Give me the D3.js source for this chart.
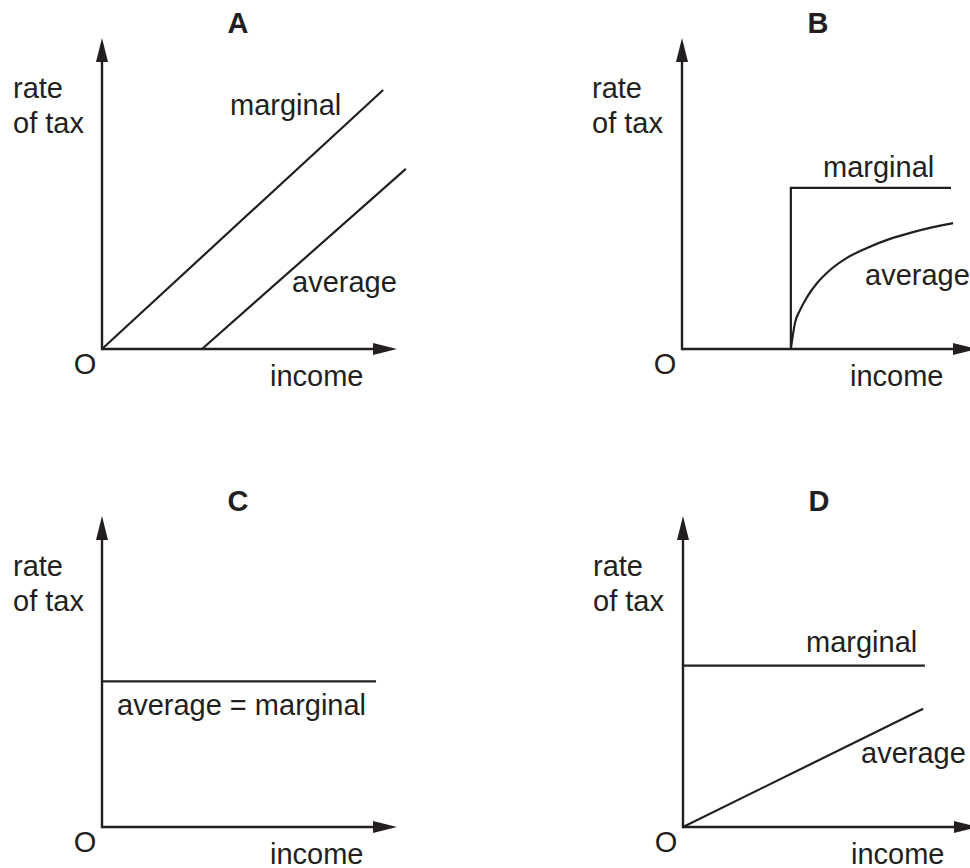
<!DOCTYPE html>
<html>
<head>
<meta charset="utf-8">
<script src="https://cdn.jsdelivr.net/npm/d3@7"></script>
<style>
  html, body { margin: 0; padding: 0; background: #fff; }
  svg { display: block; }
  text { font-family: "Liberation Sans", Arial, Helvetica, sans-serif; fill: #231f20; }
</style>
</head>
<body>
<svg id="chart" width="970" height="868"></svg>
<script>
// ---------- data (abstract units: income 0..10, rate of tax 0..10) ----------
const panelNames = ["A", "B", "C", "D"];
const axisMax = [10, 10];            // arrow tips of income / rate axes
const yLabel = ["rate", "of tax"];
const xLabel = "income";
const originLabel = "O";

// A: both rising, average starts later
const aMarginal = [[0, 0], [9.53, 8.33]];
const aAverage  = [[3.39, 0], [10.3, 5.79]];
// B: marginal jumps at threshold, average rises concavely
const bMarginal = [[3.69, 0], [3.69, 5.18], [9.12, 5.18]];
const bAverage  = [[3.69, 0], [3.83, 0.84], [4.0, 1.25], [4.24, 1.67], [4.58, 2.12], [5.02, 2.54],
                   [5.59, 2.93], [6.27, 3.25], [7.05, 3.54], [7.83, 3.76], [8.51, 3.92], [9.19, 4.05]];
// C: flat, average = marginal
const cBoth     = [[0, 4.68], [9.29, 4.68]];
// D: flat marginal, linear average from origin
const dMarginal = [[0, 5.19], [8.2, 5.19]];
const dAverage  = [[0, 0], [8.14, 3.8]];

const lineLabels = {
  A: [{text: "marginal", x: 128, y: -234}, {text: "average", x: 190, y: -57}],
  B: [{text: "marginal", x: 141, y: -172}, {text: "average", x: 183, y: -64}],
  C: [{text: "average = marginal", x: 15, y: -112}],
  D: [{text: "marginal", x: 123, y: -175}, {text: "average", x: 178, y: -64}]
};

const panelSeries = {
  A: [{pts: aMarginal, curve: d3.curveLinear}, {pts: aAverage, curve: d3.curveLinear}],
  B: [{pts: bMarginal, curve: d3.curveLinear}, {pts: bAverage, curve: d3.curveMonotoneX}],
  C: [{pts: cBoth, curve: d3.curveLinear}],
  D: [{pts: dMarginal, curve: d3.curveLinear}, {pts: dAverage, curve: d3.curveLinear}]
};

// ---------- layout ----------
const origins = { A: [102, 349], B: [682, 349], C: [102, 827], D: [683, 827] };
const plotW = 295, plotH = 311;
const ink = "#231f20";
const fontSize = 29;

const svg = d3.select("#chart");

panelNames.forEach(name => {
  const [ox, oy] = origins[name];
  const g = svg.append("g").attr("transform", `translate(${ox},${oy})`);
  const x = d3.scaleLinear().domain([0, axisMax[0]]).range([0, plotW]);
  const y = d3.scaleLinear().domain([0, axisMax[1]]).range([0, -plotH]);

  const headL = 24, headW = 6;
  // axes
  g.append("line").attr("x1", x(0)).attr("y1", y(0)).attr("x2", x(axisMax[0]) - headL + 2).attr("y2", y(0))
    .attr("stroke", ink).attr("stroke-width", 2.4);
  g.append("line").attr("x1", x(0)).attr("y1", y(0) + 1.2).attr("x2", x(0)).attr("y2", y(axisMax[1]) + headL - 2)
    .attr("stroke", ink).attr("stroke-width", 2.4);
  // arrowheads
  const tx = x(axisMax[0]), ty = y(axisMax[1]);
  g.append("path").attr("d", `M${tx},0 L${tx - headL},${-headW} L${tx - headL},${headW} Z`).attr("fill", ink);
  g.append("path").attr("d", `M0,${ty} L${-headW},${ty + headL} L${headW},${ty + headL} Z`).attr("fill", ink);

  // series lines
  panelSeries[name].forEach(s => {
    const line = d3.line().x(d => x(d[0])).y(d => y(d[1])).curve(s.curve);
    g.append("path").attr("d", line(s.pts)).attr("fill", "none")
      .attr("stroke", ink).attr("stroke-width", 2.2).attr("stroke-linejoin", "miter");
  });

  // texts
  g.append("text").attr("x", 136).attr("y", -316).attr("text-anchor", "middle")
    .attr("font-weight", "bold").attr("font-size", fontSize).text(name);
  const left = name === "A" || name === "C" ? -89 : -90;
  g.append("text").attr("x", left).attr("y", -251).attr("font-size", fontSize).text(yLabel[0]);
  g.append("text").attr("x", left).attr("y", -216).attr("font-size", fontSize).text(yLabel[1]);
  g.append("text").attr("x", -17).attr("y", 25).attr("text-anchor", "middle").attr("font-size", fontSize).text(originLabel);
  g.append("text").attr("x", 168).attr("y", 37).attr("font-size", fontSize).text(xLabel);
  lineLabels[name].forEach(l => {
    g.append("text").attr("x", l.x).attr("y", l.y).attr("font-size", fontSize).text(l.text);
  });
});
</script>
</body>
</html>
